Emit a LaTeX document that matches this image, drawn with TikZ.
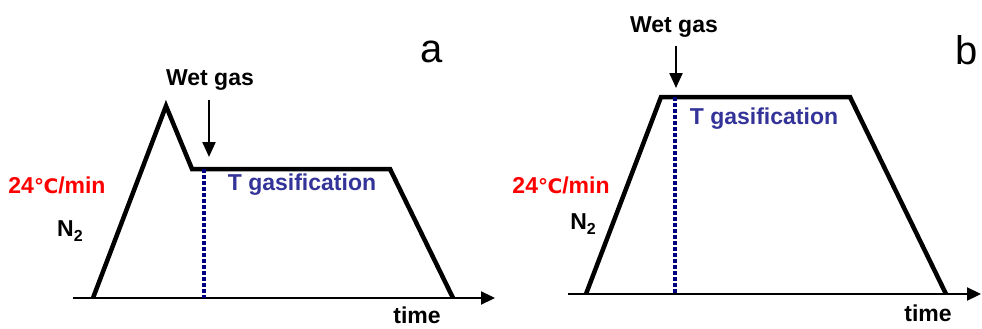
\documentclass[tikz,border=0pt]{standalone}
\usepackage{fontspec}
\setmainfont{Liberation Sans}
\newfontfamily\degfont{DejaVu Sans}
\usepackage{xcolor}
\usetikzlibrary{arrows.meta}
\definecolor{tgas}{RGB}{51,51,153}
\definecolor{dotblue}{RGB}{0,0,128}

\tikzset{
  lbl/.style={inner sep=0pt,font=\fontsize{23}{26}\selectfont\bfseries},
  panel/.style={inner sep=0pt,font=\fontsize{40}{44}\selectfont},
  profile/.style={line width=4.5pt,line join=miter},
  axis/.style={line width=2.2pt,-{Triangle[length=14pt,width=13pt]}},
  feed/.style={line width=2.2pt,-{Triangle[length=15pt,width=13pt]}},
  marker/.style={dotblue,line width=3.5pt,dash pattern=on 3.5pt off 2.5pt}
}
\newcommand{\Ntwo}{N\raisebox{-0.4ex}{\fontsize{16}{16}\selectfont 2}}
\newcommand{\degC}{{\degfont\fontsize{20}{24}\selectfont ℃}}

\begin{document}
\begin{tikzpicture}[x=1pt,y=-1pt]
  \useasboundingbox (0,0) rectangle (982,329);
  % panel a
  \coordinate (a0) at (73,298);
  \coordinate (a1) at (495,298);
  \draw[axis] (a0) -- (a1);
  \coordinate (ap1) at (93,298);
  \coordinate (ap2) at (166,106);
  \coordinate (ap3) at (192,169);
  \coordinate (ap4) at (390,169);
  \coordinate (ap5) at (453,298);
  \draw[profile] (ap1) -- (ap2) -- (ap3) -- (ap4) -- (ap5);
  \coordinate (am1) at (204,169);
  \coordinate (am2) at (204,298);
  \draw[marker] (am1) -- (am2);
  \node[lbl] (awet) at (210,80) {Wet gas};
  \coordinate (aw1) at (209,100);
  \coordinate (aw2) at (209,157);
  \draw[feed] (aw1) -- (aw2);
  \node[lbl,tgas] (atg) at (302,185) {T gasification};
  \node[lbl,red] (arate) at (57,185) {24\degC/min};
  \node[lbl] (an2) at (70,231) {\Ntwo};
  \node[lbl] (atime) at (417,315) {time};
  \node[panel] (alab) at (432,52) {a};
  % panel b
  \coordinate (b0) at (568,294);
  \coordinate (b1) at (981,294);
  \draw[axis] (b0) -- (b1);
  \coordinate (bp1) at (586,294);
  \coordinate (bp2) at (661,97);
  \coordinate (bp3) at (850,97);
  \coordinate (bp4) at (946,294);
  \draw[profile] (bp1) -- (bp2) -- (bp3) -- (bp4);
  \coordinate (bm1) at (675,97);
  \coordinate (bm2) at (675,294);
  \draw[marker] (bm1) -- (bm2);
  \node[lbl] (bwet) at (674,27) {Wet gas};
  \coordinate (bw1) at (676,46);
  \coordinate (bw2) at (676,88);
  \draw[feed] (bw1) -- (bw2);
  \node[lbl,tgas] (btg) at (764,119) {T gasification};
  \node[lbl,red] (brate) at (561,185) {24\degC/min};
  \node[lbl] (bn2) at (583,224) {\Ntwo};
  \node[lbl] (btime) at (928,313) {time};
  \node[panel] (blab) at (967,50) {b};
\end{tikzpicture}
\end{document}
